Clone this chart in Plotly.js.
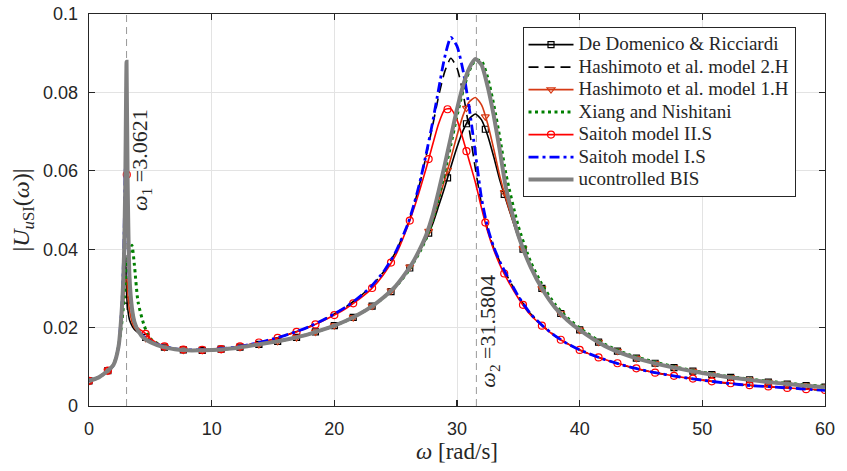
<!DOCTYPE html>
<html><head><meta charset="utf-8">
<script src="https://cdn.plot.ly/plotly-3.0.1.min.js"></script>
<style>html,body{margin:0;padding:0;background:#fff;} #chart{width:847px;height:471px;}</style>
</head><body><div id="chart"></div>
<script>
// shared frequency grid (rad/s)
const omega = [0,0.8,1.5,2.0,2.4,2.7,2.85,2.95,3.06,3.15,3.3,3.5,3.7,4.0,4.5,
 5,6,7,8,9,10,11,12,13,14,15,16,17,18,19,20,21,22,23,24,25,26,
 26.5,27,27.5,28,28.5,29,29.5,30,30.5,31,31.5,32,32.5,33,33.5,34,
 35,36,37,38,39,40,
 42,44,46,48,50,52,54,56,58,60];

const deDomenico = [0.0064,0.0073,0.0089,0.0105,0.0150,0.0240,0.0320,0.0400,0.0290,0.0250,0.0220,0.0205,0.0195,0.0187,0.0176,
 0.0163,0.0151,0.0145,0.0142,0.0142,0.0143,0.0145,0.0148,0.0153,0.0158,0.0163,0.0169,0.0176,0.0184,0.0194,0.0205,0.0218,0.0234,0.0253,0.0276,0.0305,0.0345,
 0.0370,0.0398,0.0427,0.0463,0.0510,0.0558,0.0610,0.0660,0.0703,0.0733,0.0745,0.0730,0.0690,0.0635,0.0575,0.0525,
 0.0430,0.0352,0.0296,0.0251,0.0219,0.0194,
 0.0154,0.0128,0.0110,0.0096,0.0084,0.0074,0.0066,0.0059,0.0053,0.0048];

const hashimoto2H = [0.0064,0.0073,0.0089,0.0105,0.0150,0.0260,0.0380,0.0520,0.0600,0.0440,0.0300,0.0240,0.0210,0.0190,0.0176,
 0.0165,0.0153,0.0146,0.0143,0.0143,0.0144,0.0147,0.0150,0.0156,0.0163,0.0171,0.0180,0.0191,0.0203,0.0218,0.0235,0.0254,0.0277,0.0305,0.0342,0.0393,0.0465,
 0.0513,0.0572,0.0640,0.0713,0.0790,0.0853,0.0887,0.0862,0.0797,0.0705,0.0605,0.0515,0.0450,0.0403,0.0368,0.0337,
 0.0280,0.0235,0.0204,0.0179,0.0159,0.0143,
 0.0119,0.0100,0.0086,0.0075,0.0066,0.0058,0.0052,0.0048,0.0044,0.0040];

const hashimoto1H = [0.0064,0.0073,0.0089,0.0105,0.0150,0.0230,0.0290,0.0330,0.0330,0.0290,0.0245,0.0215,0.0200,0.0189,0.0176,
 0.0163,0.0151,0.0145,0.0142,0.0142,0.0143,0.0145,0.0148,0.0153,0.0158,0.0163,0.0169,0.0176,0.0184,0.0194,0.0205,0.0218,0.0234,0.0253,0.0277,0.0306,0.0347,
 0.0372,0.0402,0.0430,0.0472,0.0525,0.0577,0.0632,0.0690,0.0742,0.0776,0.0787,0.0768,0.0720,0.0655,0.0585,0.0528,
 0.0432,0.0353,0.0296,0.0251,0.0219,0.0194,
 0.0154,0.0128,0.0110,0.0096,0.0084,0.0074,0.0066,0.0059,0.0053,0.0048];

const xiang = [0.0064,0.0073,0.0089,0.0105,0.0150,0.0220,0.0270,0.0310,0.0350,0.0370,0.0390,0.0410,0.0360,0.0265,0.0205,
 0.0172,0.0152,0.0145,0.0142,0.0142,0.0143,0.0145,0.0148,0.0153,0.0158,0.0163,0.0169,0.0176,0.0184,0.0194,0.0205,0.0218,0.0234,0.0253,0.0276,0.0304,0.0343,
 0.0368,0.0395,0.0428,0.0472,0.0530,0.0597,0.0667,0.0740,0.0805,0.0855,0.0882,0.0880,0.0838,0.0768,0.0683,0.0590,
 0.0458,0.0368,0.0306,0.0259,0.0225,0.0199,
 0.0158,0.0131,0.0113,0.0098,0.0086,0.0076,0.0068,0.0061,0.0055,0.0050];

const saitoh2S = [0.0064,0.0073,0.0089,0.0105,0.0150,0.0250,0.0350,0.0480,0.0620,0.0460,0.0300,0.0240,0.0215,0.0198,0.0188,
 0.0172,0.0153,0.0146,0.0143,0.0143,0.0144,0.0147,0.0150,0.0156,0.0163,0.0170,0.0180,0.0190,0.0202,0.0216,0.0232,0.0250,0.0272,0.0298,0.0335,0.0385,0.0460,
 0.0505,0.0555,0.0608,0.0665,0.0720,0.0756,0.0758,0.0730,0.0680,0.0625,0.0570,0.0505,0.0445,0.0398,0.0360,0.0328,
 0.0275,0.0232,0.0203,0.0178,0.0159,0.0143,
 0.0119,0.0101,0.0086,0.0075,0.0066,0.0059,0.0053,0.0048,0.0044,0.0041];

const saitoh1S = [0.0064,0.0073,0.0089,0.0105,0.0150,0.0270,0.0420,0.0600,0.0670,0.0470,0.0310,0.0245,0.0215,0.0192,0.0176,
 0.0165,0.0153,0.0146,0.0143,0.0143,0.0144,0.0147,0.0150,0.0156,0.0163,0.0171,0.0180,0.0191,0.0203,0.0218,0.0235,0.0254,0.0277,0.0305,0.0342,0.0393,0.0465,
 0.0515,0.0575,0.0645,0.0722,0.0808,0.0890,0.0940,0.0918,0.0855,0.0760,0.0645,0.0530,0.0455,0.0405,0.0368,0.0337,
 0.0280,0.0235,0.0204,0.0179,0.0159,0.0143,
 0.0119,0.0100,0.0086,0.0075,0.0066,0.0058,0.0052,0.0048,0.0044,0.0040];

const uncontrolledBIS = [0.0064,0.0073,0.0089,0.0105,0.0150,0.0260,0.0380,0.0550,0.0878,0.0570,0.0330,0.0250,0.0215,0.0192,0.0172,
 0.0163,0.0151,0.0145,0.0142,0.0142,0.0143,0.0145,0.0148,0.0153,0.0158,0.0163,0.0169,0.0176,0.0184,0.0194,0.0205,0.0218,0.0234,0.0253,0.0277,0.0306,0.0347,
 0.0372,0.0402,0.0437,0.0485,0.0548,0.0615,0.0686,0.0757,0.0818,0.0862,0.0885,0.0870,0.0815,0.0740,0.0650,0.0555,
 0.0435,0.0355,0.0296,0.0251,0.0219,0.0194,
 0.0154,0.0128,0.0110,0.0096,0.0084,0.0074,0.0066,0.0059,0.0053,0.0048];

// marker positions (rad/s) and marker values
const markOmega = [0,1.54,3.08,4.62,6.15,7.69,9.23,10.77,12.31,13.85,15.38,16.92,18.46,20.0,21.54,23.08,24.62,26.15,27.69,29.23,
 30.77,32.31,33.85,35.38,36.92,38.46,40.0,41.54,43.08,44.62,46.15,47.69,49.23,50.77,52.31,53.85,55.38,56.92,58.46,60];
const deDomenicoMarks = [0.0064,0.0090,0.0270,0.0175,0.0150,0.0143,0.0142,0.0145,0.0150,0.0157,0.0165,0.0175,0.0189,0.0205,0.0226,0.0255,0.0292,0.0352,0.0441,0.0582,
 0.0720,0.0706,0.0540,0.0400,0.0300,0.0236,0.0194,0.0163,0.0140,0.0122,0.0109,0.0098,0.0089,0.0080,0.0073,0.0067,0.0061,0.0056,0.0052,0.0048];
const hashimoto1HMarks = [0.0064,0.0090,0.0320,0.0173,0.0150,0.0143,0.0142,0.0145,0.0150,0.0157,0.0165,0.0175,0.0189,0.0205,0.0226,0.0255,0.0294,0.0355,0.0446,0.0602,
 0.0760,0.0738,0.0545,0.0402,0.0300,0.0236,0.0194,0.0163,0.0140,0.0122,0.0109,0.0098,0.0089,0.0080,0.0073,0.0067,0.0061,0.0056,0.0052,0.0048];
const saitoh2SMarks = [0.0064,0.0090,0.0590,0.0184,0.0152,0.0144,0.0143,0.0145,0.0152,0.0162,0.0174,0.0189,0.0208,0.0232,0.0262,0.0301,0.0366,0.0473,0.0630,0.0757,
 0.0650,0.0468,0.0338,0.0258,0.0205,0.0169,0.0143,0.0124,0.0109,0.0096,0.0085,0.0077,0.0070,0.0063,0.0058,0.0053,0.0050,0.0046,0.0043,0.0041];

const seriesNames = ['De Domenico &amp; Ricciardi','Hashimoto et al. model 2.H','Hashimoto et al. model 1.H',
 'Xiang and Nishitani','Saitoh model II.S','Saitoh model I.S','ucontrolled BIS'];
const resonanceOmega = [3.0621, 31.5804];
const resonanceLabels = ['<i>ω</i><sub>1</sub> =3.0621', '<i>ω</i><sub>2</sub> =31.5804'];
const xTicks = [0,10,20,30,40,50,60];
const yTicks = [0,0.02,0.04,0.06,0.08,0.1];

const AX = '#262626';
const SERIF = '"Liberation Serif", "Times New Roman", serif';
const SANS = '"Liberation Sans", Arial, sans-serif';
function lg(t){ return '<span style="font-size:19px">' + t + '</span>'; }

const traces = [];
function addSeries(name, y, line, marks, marker) {
  if (marks) {
    traces.push({x: omega, y: y, mode: 'lines', line: line, showlegend: false, hoverinfo: 'skip'});
    traces.push({x: markOmega, y: marks, mode: 'markers', marker: marker, showlegend: false});
    traces.push({x: [null], y: [null], mode: 'lines+markers', line: line, marker: marker, name: lg(name)});
  } else {
    traces.push({x: omega, y: y, mode: 'lines', line: line, name: lg(name)});
  }
}
const SM = {shape: 'spline', smoothing: 0.6};
addSeries(seriesNames[0], deDomenico, Object.assign({color: '#000000', width: 1.6}, SM), deDomenicoMarks,
  {symbol: 'square-open', size: 6, color: '#000000', line: {width: 1.2}});
addSeries(seriesNames[1], hashimoto2H, Object.assign({color: '#000000', width: 1.6, dash: '10px,6px'}, SM));
addSeries(seriesNames[2], hashimoto1H, Object.assign({color: '#D63A14', width: 1.6}, SM), hashimoto1HMarks,
  {symbol: 'triangle-down-open', size: 7, color: '#D63A14', line: {width: 1.2}});
addSeries(seriesNames[3], xiang, Object.assign({color: '#008000', width: 3, dash: '3px,3.5px'}, SM));
addSeries(seriesNames[4], saitoh2S, Object.assign({color: '#FF0000', width: 1.6}, SM), saitoh2SMarks,
  {symbol: 'circle-open', size: 7, color: '#FF0000', line: {width: 1.2}});
addSeries(seriesNames[5], saitoh1S, Object.assign({color: '#0000FF', width: 2.8, dash: '10px,4px,3px,4px'}, SM));
addSeries(seriesNames[6], uncontrolledBIS, Object.assign({color: '#808080', width: 4}, SM));

const shapes = resonanceOmega.map(w => ({type: 'line', xref: 'x', yref: 'paper', x0: w, x1: w, y0: 0, y1: 1,
  line: {color: '#999999', width: 1, dash: '7px,5px'}, layer: 'below'}));

const annotations = [
  {x: 4.25, y: 0.0628, xref: 'x', yref: 'y', text: resonanceLabels[0], textangle: -90, showarrow: false,
   font: {family: SERIF, size: 22, color: AX}, xanchor: 'center', yanchor: 'middle'},
  {x: 32.6, y: 0.0192, xref: 'x', yref: 'y', text: resonanceLabels[1], textangle: -90, showarrow: false,
   font: {family: SERIF, size: 22, color: AX}, xanchor: 'center', yanchor: 'middle'}
];

const axisCommon = {
  showline: true, linecolor: AX, linewidth: 1.3, mirror: 'ticks', ticks: 'inside', ticklen: 6, tickwidth: 1.3,
  tickcolor: AX, showgrid: true, gridcolor: '#e3e3e3', gridwidth: 1, zeroline: false,
  tickfont: {family: SANS, size: 18, color: AX}, automargin: false
};

const layout = {
  width: 847, height: 471,
  margin: {l: 89, r: 22, t: 14, b: 65},
  paper_bgcolor: '#ffffff', plot_bgcolor: '#ffffff',
  xaxis: Object.assign({}, axisCommon, {range: [0, 60], tickvals: xTicks, ticklabelstandoff: 6,
    title: {text: '<i>ω</i> [rad/s]', font: {family: SERIF, size: 23, color: AX}, standoff: 4}}),
  yaxis: Object.assign({}, axisCommon, {range: [0, 0.1], tickvals: yTicks, ticklabelstandoff: 6,
    title: {text: '|<i>U</i><sub><i>u</i>SI</sub>(<i>ω</i>)|', font: {family: SERIF, size: 24, color: AX}, standoff: 6}}),
  legend: {x: 0.589, y: 0.966, xanchor: 'left', yanchor: 'top', bgcolor: '#ffffff', bordercolor: AX, borderwidth: 1,
    font: {family: SERIF, size: 15, color: AX}, tracegroupgap: 0, itemwidth: 45},
  shapes: shapes,
  annotations: annotations,
  showlegend: true
};

Plotly.newPlot('chart', traces, layout, {displayModeBar: false, staticPlot: true});
</script>
</body></html>
